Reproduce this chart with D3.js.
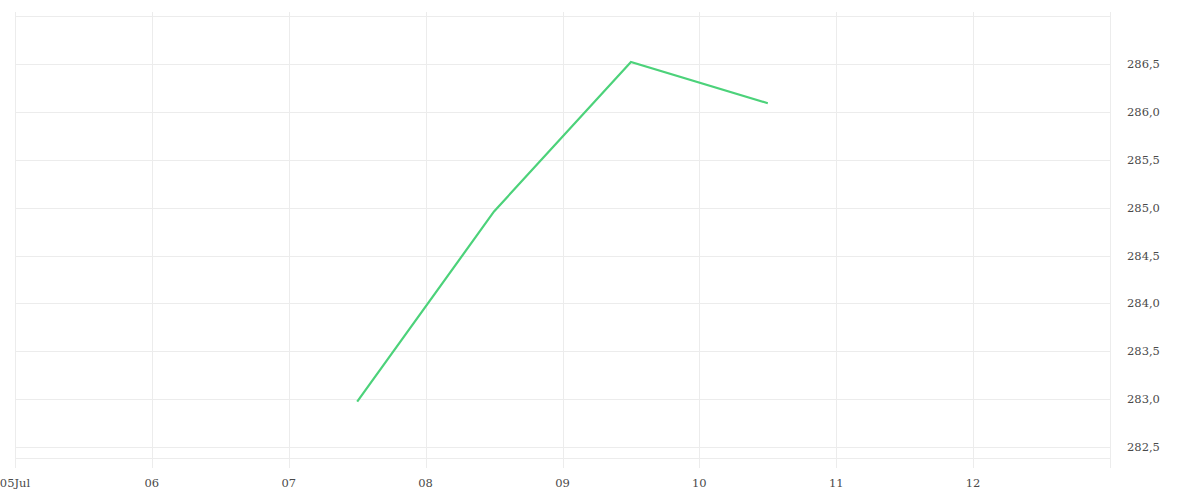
<!DOCTYPE html>
<html>
<head>
<meta charset="utf-8">
<script src="https://cdn.jsdelivr.net/npm/d3@7"></script>
<style>
  body { margin: 0; background: #fff; }
  svg { display: block; }
  text { font-family: "DejaVu Serif", serif; font-size: 11.5px; fill: #4a4a4a; }
</style>
</head>
<body>
<svg id="chart" width="1200" height="500"></svg>
<script>
// data
var dates = ["2024-07-07T12:00", "2024-07-08T12:00", "2024-07-09T12:00", "2024-07-10T12:00"];
var values = [282.975, 284.96, 286.52, 286.09];
var yTicks = [282.5, 283.0, 283.5, 284.0, 284.5, 285.0, 285.5, 286.0, 286.5];
var xTicks = ["2024-07-05", "2024-07-06", "2024-07-07", "2024-07-08", "2024-07-09", "2024-07-10", "2024-07-11", "2024-07-12", "2024-07-13"];

var parseTime = d3.timeParse("%Y-%m-%dT%H:%M"),
    parseDay = d3.timeParse("%Y-%m-%d");

// plot box (note: "top" is reserved on window, so use other names)
var plotL = 15, plotR = 1110, plotT = 16, plotB = 458;

var svg = d3.select("#chart");

var x = d3.scaleTime()
  .domain([parseDay(xTicks[0]), parseDay(xTicks[xTicks.length - 1])])
  .range([plotL, plotR]);

var y = d3.scaleLinear()
  .domain([282.387, 287.0])
  .range([plotB, plotT]);

var grid = "#ececec";

//vertical grid lines, running a bit past the plot box
svg.append("g").selectAll("line")
  .data(xTicks.map(parseDay))
  .enter().append("line")
  .attr("x1", function(d){ return Math.round(x(d)) + 0.5; })
  .attr("x2", function(d){ return Math.round(x(d)) + 0.5; })
  .attr("y1", 12)
  .attr("y2", 468)
  .attr("stroke", grid);

//horizontal grid lines + top/bottom border
var hLines = yTicks.map(function(v){ return y(v); }).concat([plotT, plotB]);
svg.append("g").selectAll("line")
  .data(hLines)
  .enter().append("line")
  .attr("x1", plotL)
  .attr("x2", plotR)
  .attr("y1", function(d){ return Math.round(d) + 0.5; })
  .attr("y2", function(d){ return Math.round(d) + 0.5; })
  .attr("stroke", grid);

//x labels
var fmt = d3.timeFormat("%d");
svg.append("g").selectAll("text")
  .data(xTicks.slice(0, -1).map(parseDay))
  .enter().append("text")
  .attr("x", function(d){ return x(d); })
  .attr("y", 487)
  .attr("text-anchor", "middle")
  .text(function(d, i){ return i == 0 ? fmt(d) + "Jul" : fmt(d); });

//y labels, comma decimals
svg.append("g").selectAll("text")
  .data(yTicks)
  .enter().append("text")
  .attr("x", 1127)
  .attr("y", function(d){ return y(d); })
  .attr("dy", "0.35em")
  .text(function(d){ return d.toFixed(1).replace(".", ","); });

var line = d3.line()
  .x(function(d){ return x(d[0]); })
  .y(function(d){ return y(d[1]); });

svg.append("path")
  .datum(dates.map(function(d, i){ return [parseTime(d), values[i]]; }))
  .attr("d", line)
  .attr("fill", "none")
  .attr("stroke", "#4cd27a")
  .attr("stroke-width", 2.2);
</script>
</body>
</html>
